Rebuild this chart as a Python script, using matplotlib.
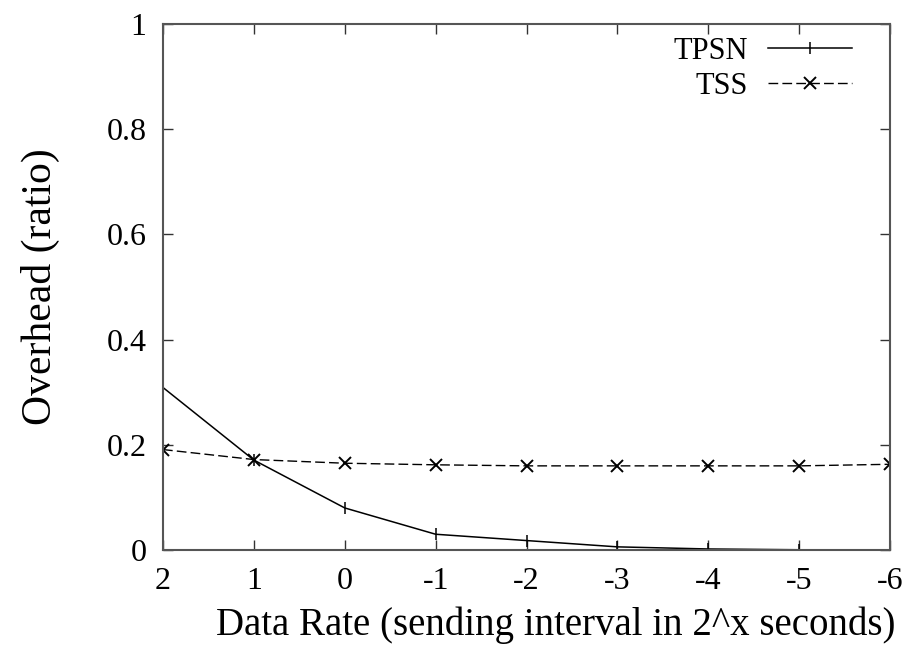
import matplotlib
matplotlib.use("Agg")
from matplotlib import pyplot as plt

# Data rate exponent (sending interval 2^x seconds)
rates = [2, 1, 0, -1, -2, -3, -4, -5, -6]
tpsn = [0.309, 0.171, 0.080, 0.030, 0.018, 0.006, 0.002, 0.0005, 0.0]
tss = [0.191, 0.172, 0.165, 0.162, 0.160, 0.160, 0.160, 0.160, 0.163]

x_ticks = [2, 1, 0, -1, -2, -3, -4, -5, -6]
y_ticks = [0, 0.2, 0.4, 0.6, 0.8, 1]
y_tick_labels = ["0", "0.2", "0.4", "0.6", "0.8", "1"]

plt.rcParams["font.family"] = ["Liberation Serif", "DejaVu Serif"]

fig = plt.figure(figsize=(9.07, 6.53), dpi=100)
ax = fig.add_axes([0.1797, 0.1577, 0.8016, 0.8055])

ax.plot(rates, tpsn, "-", color="black", lw=1.1, marker="|", ms=9, mew=1.1,
        label="TPSN")
ax.plot(rates, tss, "--", color="black", lw=1.0, dashes=(7, 3), marker="x",
        ms=8, mew=1.4, label="TSS")

ax.set_xlim(2, -6)
ax.set_ylim(0, 1)
ax.set_xticks(x_ticks)
ax.set_xticklabels([str(v) for v in x_ticks])
ax.set_yticks(y_ticks)
ax.set_yticklabels(y_tick_labels)

ax.tick_params(direction="in", length=7, width=1, top=True, right=True,
               labelsize=23, pad=12, colors="#333333", labelcolor="black")
for s in ax.spines.values():
    s.set_color("#555555")
    s.set_linewidth(1.5)

ax.set_xlabel("Data Rate (sending interval in 2^x seconds)", fontsize=28)
ax.xaxis.set_label_coords(0.54, -0.108)
ax.set_ylabel("Overhead (ratio)", fontsize=30)
ax.yaxis.set_label_coords(-0.142, 0.5)

ax.legend(loc="upper right", bbox_to_anchor=(0.948, 0.976), frameon=False,
          markerfirst=False, fontsize=22, handlelength=2.75,
          handletextpad=0.65, labelspacing=0.2, borderaxespad=0, borderpad=0)

fig.savefig("out.png", dpi=100)
